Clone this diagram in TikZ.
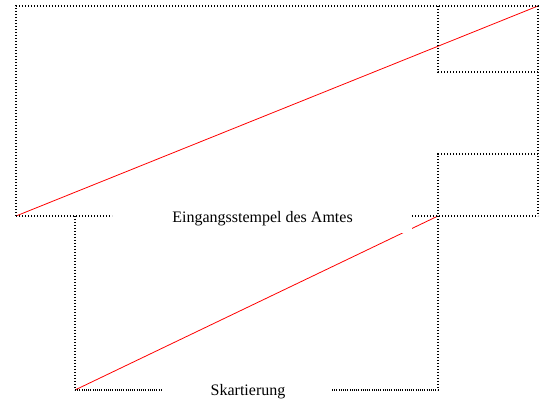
\documentclass[tikz,border=0pt]{standalone}
\usepackage{fontspec}
\setmainfont{Liberation Serif}
\begin{document}
\begin{tikzpicture}[x=1pt,y=-1pt,
  dotline/.style={line width=1.6pt, dash pattern=on 1.2pt off 1.8pt},
  finedot/.style={line width=1.3pt, dash pattern=on 1pt off 1.2pt},
  redline/.style={red, line width=0.8pt},
  lbl/.style={font=\fontsize{16}{19}\selectfont, inner sep=0pt}]
\useasboundingbox (0,0) rectangle (549,403);
% corner coordinates
\coordinate (TL) at (16,6);
\coordinate (TR) at (538,6);
\coordinate (BL) at (16,216);
\coordinate (BR) at (538,216);
\coordinate (A1) at (438,6);
\coordinate (A2) at (438,72);
\coordinate (A3) at (538,72);
\coordinate (B1) at (438,154);
\coordinate (B2) at (538,154);
\coordinate (G1) at (112,216);
\coordinate (G2) at (412,216);
\coordinate (LT) at (75,216);
\coordinate (LB) at (75,390);
\coordinate (RB) at (438,390);
\coordinate (RT) at (438,216);
\coordinate (H1) at (162,390);
\coordinate (H2) at (332,390);
% red lines
\draw[redline] (BL) -- (TR);
\draw[redline] (LB) -- (RT);
% white label box
\fill[white] (112,200) rectangle (412,233);
% outer upper frame
\draw[dotline] (BL) -- (TL) -- (TR) -- (BR);
\draw[dotline] (BL) -- (G1);
\draw[dotline] (G2) -- (BR);
% small boxes
\draw[dotline] (A1) -- (A2) -- (A3);
\draw[dotline] (B2) -- (B1) -- (RT);
% lower frame
\draw[dotline] (LT) -- (LB);
\draw[dotline] (RT) -- (RB);
\draw[finedot] (LB) -- (H1);
\draw[finedot] (H2) -- (RB);
% labels
\node[lbl] (ein) at (262.5,218.5) {Eingangsstempel des Amtes};
\node[lbl] (ska) at (248,391.5) {Skartierung};
\end{tikzpicture}
\end{document}
